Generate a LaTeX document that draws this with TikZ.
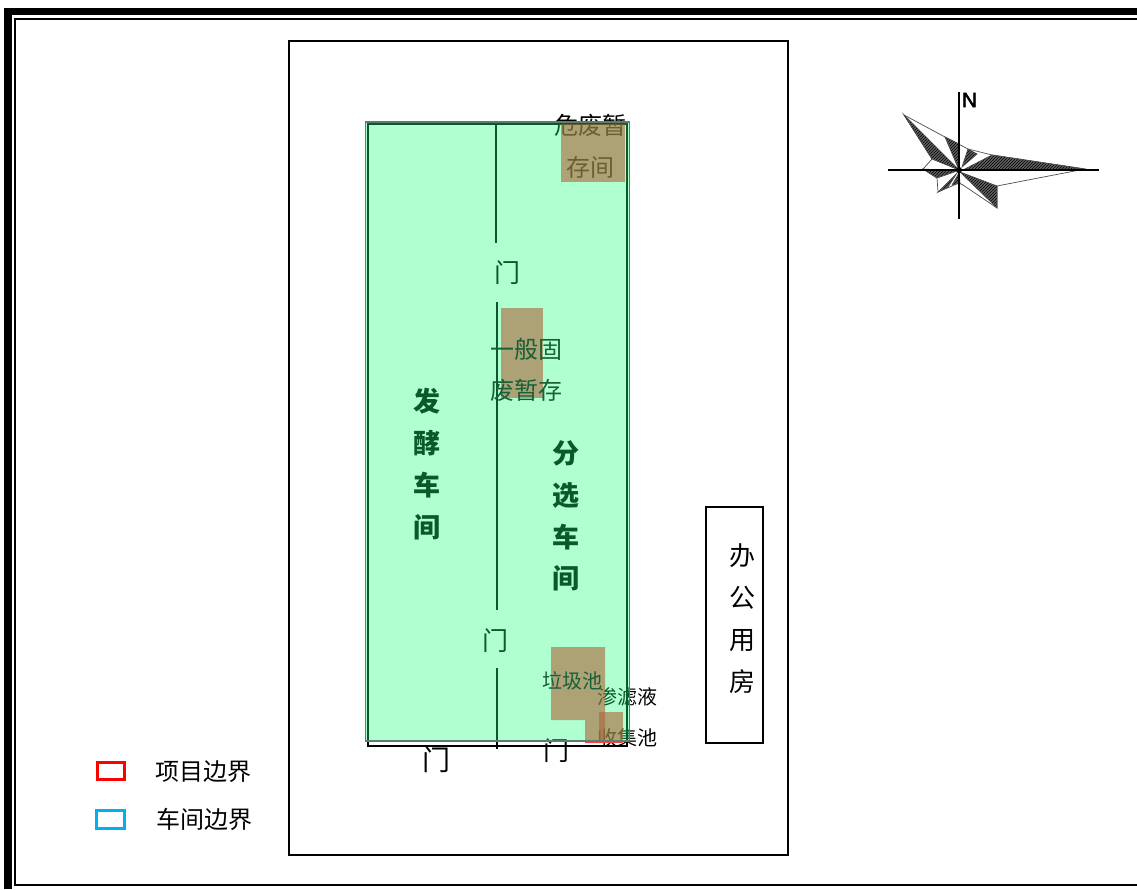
\documentclass[tikz,border=0pt]{standalone}
\usepackage{fontspec}
\setmainfont{Noto Sans CJK SC}
\setsansfont{Liberation Sans}
\newfontfamily\northfont[FakeBold=2.5]{Liberation Sans}
\usetikzlibrary{positioning,patterns}
\definecolor{workshopgreen}{RGB}{26,255,121}
\definecolor{storebrown}{RGB}{170,100,58}
\definecolor{wallgray}{RGB}{95,125,110}
\definecolor{overtext}{RGB}{25,95,55}
\definecolor{legendblue}{RGB}{0,176,240}
\tikzset{
  wall/.style={draw=black,line width=2pt},
  lbl/.style={inner sep=0pt,align=center,font=\fontsize{24}{41}\selectfont},
  biglbl/.style={inner sep=0pt,align=center,font=\fontsize{26}{41.8}\selectfont},
  boldlbl/.style={biglbl,font=\fontsize{27}{41.8}\selectfont\bfseries},
  smalllbl/.style={inner sep=0pt,align=center,font=\fontsize{20}{41}\selectfont},
  petal/.style={draw=black!70,line width=0.7pt,preaction={fill=black!62},pattern=north east lines,pattern color=black},
}
\begin{document}
\begin{tikzpicture}[x=1pt,y=-1pt]
\useasboundingbox (0,0) rectangle (1137,889);
% outer frame
\fill[white] (0,0) rectangle (1137,889);
\fill[black] (4,8) rectangle (1137,15);
\fill[black] (4,8) rectangle (12,889);
\draw[line width=2pt] (1137,19) -- (15,19) -- (15,885) -- (1137,885);
% site
\draw[wall] (288.5,40.5) rectangle (788,855);
\draw[wall] (706,506.5) rectangle (762.5,743);
\node[biglbl] (office) at (742,618.5) {办\\公\\用\\房};
% lines under the green
\draw[wall,line width=2.6pt] (368,123.5) -- (627,123.5) -- (627,746) -- (368,746) -- cycle;
\draw[wall,line width=2.3pt] (496,123) -- (496,243);
\draw[wall,line width=2.3pt] (497,302) -- (497,610);
\draw[wall,line width=2.3pt] (497,668) -- (497,749);
% labels under the green
\node[biglbl] (doorup) at (507,273) {门};
\node[biglbl] (doormid) at (495,641) {门};
\node[boldlbl] (ferment) at (426.5,464) {发\\酵\\车\\间};
\node[boldlbl] (sorting) at (565.5,516) {分\\选\\车\\间};
\node[lbl] (hazard) at (590.5,146.5) {危废暂\\[1pt]存间};
\node[smalllbl] (leachate) at (627,717) {渗滤液\\收集池};
\node[font=\fontsize{28}{28}\selectfont,inner sep=0pt] (doorleft) at (436,760) {门};
\node[biglbl] (doorright) at (556,751) {门};
% workshop
\fill[workshopgreen,opacity=0.35] (365.5,122) rectangle (629.5,741);
% stores
\fill[storebrown,opacity=0.6] (561,124) rectangle (625,182);
\fill[storebrown,opacity=0.6] (501,308) rectangle (543,398);
\fill[storebrown,opacity=0.6] (551,647) -- (605,647) -- (605,743) -- (585,743) -- (585,720) -- (551,720) -- cycle;
\fill[storebrown,opacity=0.6] (599,712) rectangle (623,743);
\draw[red!75,line width=1.5pt] (585,742.5) -- (622,742.5);
\draw[wallgray,line width=1.8pt] (365.5,122) rectangle (629.5,741);
% labels over the stores
\node[lbl,text=overtext] (solid) at (526.5,369.5) {一般固\\废暂存};
\node[smalllbl,text=overtext] (refuse) at (572.5,681) {垃圾池};
% legend
\draw[red,line width=3pt] (97,762.5) rectangle (124,779);
\draw[legendblue,line width=3pt] (96.5,810.5) rectangle (124,828);
\node[lbl] (legendred) at (203,772) {项目边界};
\node[lbl] (legendblue) at (204,819) {车间边界};
% wind rose
\draw[black!70,line width=0.7pt] (904,115) -- (945,137) -- (968,149) -- (992,155) -- (1085,169) -- (997,186) -- (997,208) -- (963,185) -- (959,183) -- (938,192) -- (937,178) -- (923,169) -- (932,159) -- cycle;
\filldraw[petal] (904,115) -- (959,170) -- (932,159) -- cycle;
\filldraw[petal] (945,137) -- (959,144) -- (959,170) -- cycle;
\filldraw[petal] (968,149) -- (962,167) -- (977,154) -- cycle;
\filldraw[petal] (992,155) -- (963,170) -- (1085,169) -- cycle;
\filldraw[petal] (997,186) -- (997,208) -- (960,172) -- cycle;
\filldraw[petal] (952,185) -- (959,173) -- (960,183) -- cycle;
\filldraw[petal] (938,192) -- (957,173) -- (948,187) -- cycle;
\filldraw[petal] (923,169) -- (957,171) -- (937,178) -- cycle;
\draw[line width=1.5pt] (888,170) -- (1099,170);
\draw[line width=1.5pt] (959,92) -- (959,219);
\fill (959,170) circle (3);
\node[inner sep=0pt,font=\northfont\fontsize{21}{21}\selectfont] (north) at (969.5,100) {N};
\end{tikzpicture}
\end{document}
